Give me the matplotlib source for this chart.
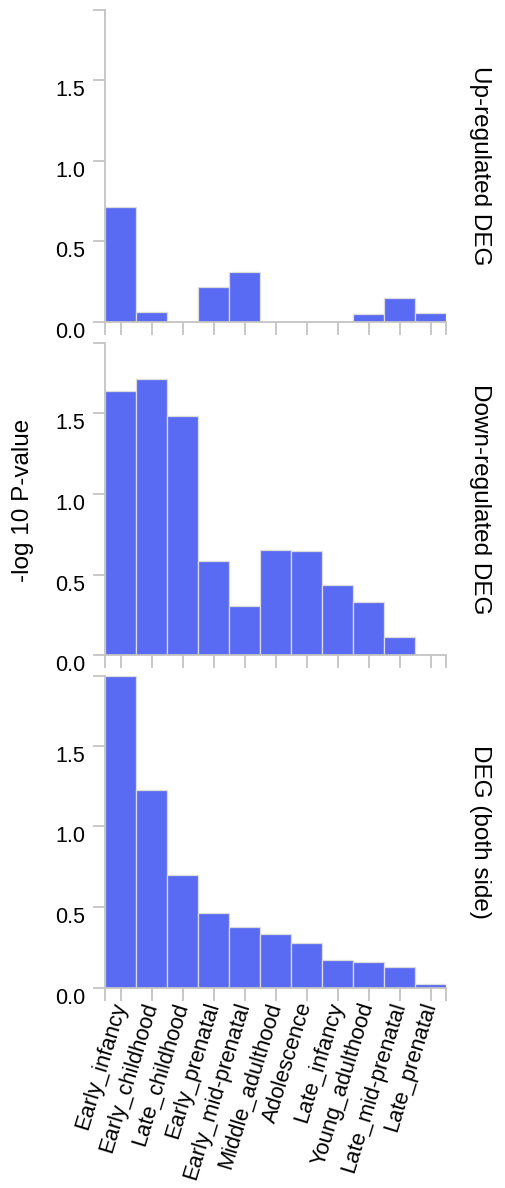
import matplotlib.pyplot as plt

# stages (shared x axis, same order in every panel)
stages = ['Early_infancy', 'Early_childhood', 'Late_childhood', 'Early_prenatal',
          'Early_mid-prenatal', 'Middle_adulthood', 'Adolescence', 'Late_infancy',
          'Young_adulthood', 'Late_mid-prenatal', 'Late_prenatal']

# -log10 p-values
up_deg = [0.715, 0.064, 0.0, 0.215, 0.308, 0.0, 0.0, 0.0, 0.051, 0.147, 0.058]
down_deg = [1.641, 1.711, 1.485, 0.586, 0.305, 0.653, 0.646, 0.435, 0.331, 0.116, 0.0]
both_deg = [1.934, 1.224, 0.699, 0.461, 0.374, 0.331, 0.279, 0.170, 0.159, 0.126, 0.021]

panel_titles = ['Up-regulated DEG', 'Down-regulated DEG', 'DEG (both side)']
ytick_vals = [0.0, 0.5, 1.0, 1.5]

plt.rcParams['font.family'] = ['Liberation Sans', 'DejaVu Sans']

bar_color = '#5a6bf3'
axis_gray = '#c4c4c4'

fig = plt.figure(figsize=(5.05, 11.88), dpi=100)
H = 1188.0
W = 505.0
left = 105 / W
width = 341 / W
tops = [10, 343.3, 675.7]
ph = 312.0

ymax = max(max(up_deg), max(down_deg), max(both_deg))
x = list(range(len(stages)))

axes = []
for i, vals in enumerate([up_deg, down_deg, both_deg]):
    ax = fig.add_axes([left, 1 - (tops[i] + ph) / H, width, ph / H])
    ax.bar(x, vals, width=1.0, color=bar_color, edgecolor='#dcdcdc', linewidth=0.9)
    ax.set_xlim(-0.5, len(stages) - 0.5)
    ax.set_ylim(0, ymax)
    for s in ['top', 'right']:
        ax.spines[s].set_visible(False)
    for s in ['left', 'bottom']:
        ax.spines[s].set_color(axis_gray)
        ax.spines[s].set_linewidth(1.3)
    ax.set_yticks(ytick_vals + [ymax])
    ax.set_yticklabels(['%.1f' % v for v in ytick_vals] + [''])
    ax.set_xticks([-0.5] + x + [len(stages) - 0.5])
    ax.tick_params(axis='both', colors=axis_gray, length=9, width=1.3, labelcolor='black',
                   labelsize=15.5)
    ax.tick_params(axis='y', pad=5)
    for lab in ax.get_yticklabels():
        lab.set_va('top')
    if i < 2:
        ax.set_xticklabels([])
    else:
        ax.set_xticklabels([''] + stages + [''], rotation=73, ha='right', va='center',
                           rotation_mode='anchor', fontsize=15.8)
        ax.tick_params(axis='x', pad=2)
    ax.text(1.1, 0.5, panel_titles[i], transform=ax.transAxes, rotation=-90,
            ha='center', va='center', fontsize=17.5)
    axes.append(ax)

fig.text(23 / W, 1 - 500 / H, '-log 10 P-value', rotation=90, ha='center', va='center',
         fontsize=17.5)

fig.savefig('out.png', dpi=100)
